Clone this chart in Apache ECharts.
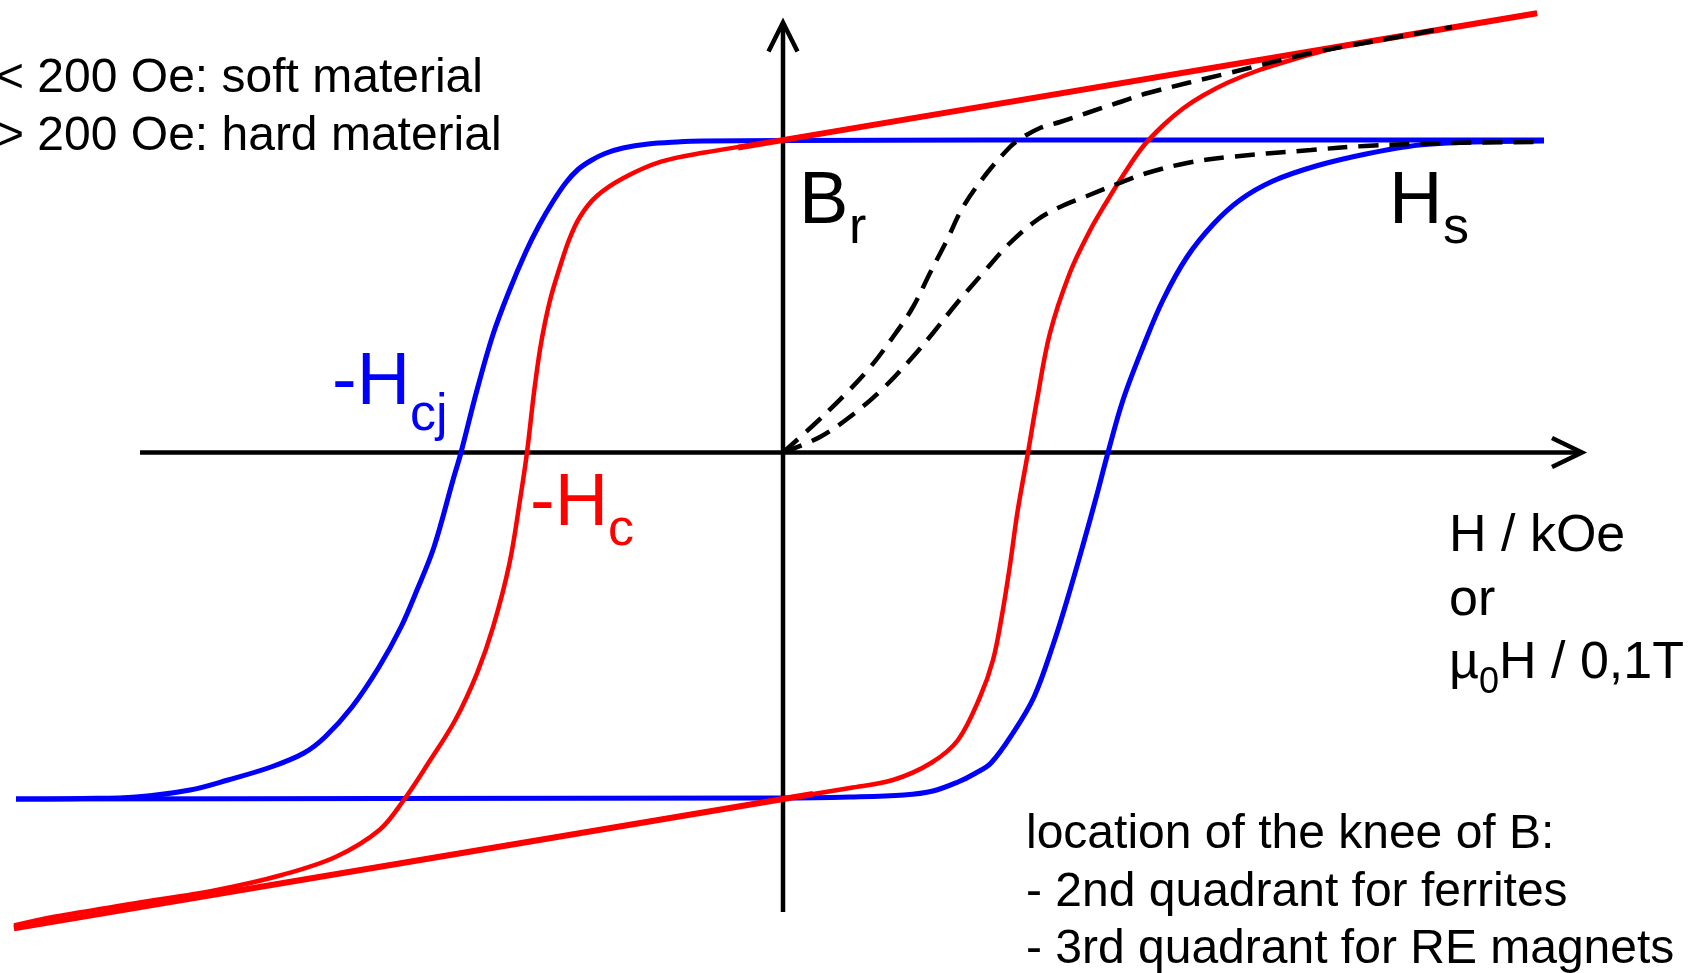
<!DOCTYPE html>
<html>
<head>
<meta charset="utf-8">
<script src="https://cdn.jsdelivr.net/npm/echarts@6/dist/echarts.min.js"></script>
<style>
  html, body { margin: 0; padding: 0; background: #ffffff; }
  #chart { width: 1700px; height: 973px; }
</style>
</head>
<body>
<div id="chart"></div>
<script>
// Schematic hysteresis loops: field H on x, induction / polarisation on y (drawing units).

// Coordinate axes and their open arrow heads
const hAxisLine = [[-6.43, 0], [7.99, 0]];
const hAxisHead = [[7.69, 0.145], [7.99, 0], [7.69, -0.145]];
const bAxisLine = [[0, -4.595], [0, 4.30]];
const bAxisHead = [[-0.145, 4.01], [0, 4.30], [0.145, 4.01]];

// Polarisation loop J(H), blue: descending and ascending branches
const jDown = [
  [7.61, 3.125], [5.0, 3.125], [2.0, 3.125], [0, 3.12], [-0.8, 3.115], [-1.06, 3.105],
  [-1.35, 3.085], [-1.60, 3.045], [-1.78, 2.99], [-1.92, 2.92], [-2.05, 2.83], [-2.17, 2.70],
  [-2.30, 2.51], [-2.44, 2.27], [-2.57, 2.01], [-2.74, 1.61], [-2.90, 1.18], [-3.06, 0.625],
  [-3.22, 0], [-3.30, -0.275], [-3.49, -0.945], [-3.66, -1.375], [-3.82, -1.745], [-4.04, -2.145],
  [-4.31, -2.545], [-4.58, -2.845], [-4.79, -3.005], [-5.12, -3.145], [-5.55, -3.275],
  [-5.93, -3.375], [-6.47, -3.445], [-7.0, -3.46], [-7.67, -3.465]
];
const jUp = [
  [-7.67, -3.465], [-4.0, -3.46], [0, -3.455], [0.67, -3.445], [1.21, -3.425], [1.50, -3.385],
  [1.75, -3.295], [1.92, -3.21], [2.08, -3.105], [2.30, -2.805], [2.51, -2.445], [2.70, -1.925],
  [2.85, -1.445], [3.00, -0.925], [3.13, -0.455], [3.25, 0], [3.40, 0.525], [3.60, 1.055],
  [3.80, 1.525], [4.04, 1.955], [4.30, 2.28], [4.57, 2.525], [4.90, 2.715], [5.33, 2.865],
  [5.83, 2.985], [6.36, 3.075], [6.90, 3.105], [7.61, 3.115]
];

// Induction loop B(H), red: descending and ascending branches
const bDown = [
  [7.54, 4.392], [0, 3.125], [-0.784, 3.0], [-1.22, 2.908], [-1.60, 2.742], [-1.87, 2.558],
  [-2.03, 2.358], [-2.14, 2.125], [-2.25, 1.795], [-2.32, 1.56], [-2.38, 1.30], [-2.43, 1.03],
  [-2.49, 0.60], [-2.56, 0], [-2.63, -0.475], [-2.735, -1.108], [-2.898, -1.742], [-3.06, -2.208],
  [-3.277, -2.675], [-3.548, -3.108], [-3.792, -3.475], [-4.036, -3.775], [-4.47, -4.042],
  [-5.012, -4.225], [-5.662, -4.375], [-6.475, -4.508], [-7.288, -4.642], [-7.69, -4.73]
];
const bUp = [
  [-7.69, -4.757], [0, -3.465], [0.67, -3.355], [1.10, -3.275], [1.48, -3.105], [1.75, -2.875],
  [1.97, -2.445], [2.10, -2.075], [2.19, -1.625], [2.27, -1.125], [2.34, -0.625], [2.40, -0.275],
  [2.45, 0], [2.54, 0.525], [2.67, 1.195], [2.87, 1.80], [3.07, 2.22], [3.22, 2.48],
  [3.40, 2.77], [3.60, 3.06], [3.80, 3.27], [4.00, 3.44], [4.20, 3.57], [4.45, 3.70],
  [4.75, 3.82], [5.10, 3.93], [5.50, 4.04], [6.09, 4.15], [7.54, 4.392]
];

// Saturation slope of B (straight parts of the red loop)
const bSatUpper = [[-0.45, 3.049], [7.54, 4.392]];
const bSatLower = [[-7.69, -4.757], [0.30, -3.415]];

// Initial magnetisation curves from the demagnetised state
const virginB = [
  [0, 0], [0.30, 0.27], [0.60, 0.56], [0.87, 0.85], [1.10, 1.155], [1.30, 1.455],
  [1.47, 1.795], [1.64, 2.125], [1.80, 2.455], [2.04, 2.795], [2.27, 3.055], [2.37, 3.135],
  [2.57, 3.245], [2.77, 3.305], [3.04, 3.395], [3.34, 3.495], [3.65, 3.595], [4.46, 3.795],
  [5.28, 3.995], [6.09, 4.145], [6.69, 4.255]
];
const virginJ = [
  [0, 0], [0.37, 0.155], [0.70, 0.38], [1.00, 0.64], [1.27, 0.925], [1.50, 1.195],
  [1.74, 1.495], [2.00, 1.795], [2.27, 2.095], [2.54, 2.325], [2.77, 2.455], [3.04, 2.565],
  [3.34, 2.685], [3.64, 2.795], [4.04, 2.895], [4.46, 2.955], [5.28, 3.025], [5.82, 3.065],
  [6.63, 3.095], [7.55, 3.105]
];

const BLUE = '#0000ff';
const RED = '#ff0000';
const BLACK = '#000000';
const FONT = '"Liberation Sans", Arial, Helvetica, sans-serif';

function lineSeries(data, color, width, extra) {
  return Object.assign({
    type: 'line',
    data: data,
    showSymbol: false,
    symbol: 'none',
    clip: false,
    silent: true,
    smooth: false,
    lineStyle: { color: color, width: width, cap: 'butt', join: 'miter' }
  }, extra || {});
}

// Text placed by left edge and baseline
function label(text, x, baseline, size, color) {
  return {
    type: 'text',
    x: x,
    y: baseline - 0.31 * size,
    silent: true,
    style: {
      text: text,
      fontFamily: FONT,
      fontSize: size,
      fill: color || BLACK,
      align: 'left',
      verticalAlign: 'middle'
    }
  };
}

const dashed = { color: BLACK, width: 4.5, type: [20, 11] };

const chart = echarts.init(document.getElementById('chart'), null, { renderer: 'canvas' });

chart.setOption({
  animation: false,
  backgroundColor: '#ffffff',
  grid: { left: 0, right: 0, top: 0, bottom: 0, containLabel: false, outerBoundsMode: 'none' },
  xAxis: { type: 'value', min: -7.83, max: 9.17, show: false },
  yAxis: { type: 'value', min: -5.205, max: 4.525, show: false },
  series: [
    lineSeries(hAxisLine, BLACK, 4.5),
    lineSeries(hAxisHead, BLACK, 4.5),
    lineSeries(bAxisLine, BLACK, 4.5),
    lineSeries(bAxisHead, BLACK, 4.5),
    lineSeries(jDown, BLUE, 5, { smooth: 0.35 }),
    lineSeries(jUp, BLUE, 5, { smooth: 0.35 }),
    lineSeries(bSatUpper, RED, 6),
    lineSeries(bSatLower, RED, 6),
    lineSeries(bDown, RED, 4.5, { smooth: 0.35 }),
    lineSeries(bUp, RED, 4.5, { smooth: 0.35 }),
    lineSeries(virginB, BLACK, 4.5, { smooth: 0.35, lineStyle: dashed }),
    lineSeries(virginJ, BLACK, 4.5, { smooth: 0.35, lineStyle: dashed })
  ],
  graphic: [
    label('< 200 Oe: soft material', -4, 94, 48),
    label('> 200 Oe: hard material', -4, 152, 48),

    label('B', 799, 226, 74),
    label('r', 849, 245, 52),

    label('H', 1389, 226, 74),
    label('s', 1443, 245, 52),

    label('-H', 332, 407, 74, BLUE),
    label('cj', 410, 432, 52, BLUE),

    label('-H', 530, 528, 74, RED),
    label('c', 608, 547, 52, RED),

    label('H / kOe', 1449, 553, 52),
    label('or', 1449, 617, 52),
    label('\u00b5', 1449, 680, 52),
    label('0', 1479, 694, 36),
    label('H / 0,1T', 1499, 680, 52),

    label('location of the knee of B:', 1026, 850, 48),
    label('- 2nd quadrant for ferrites', 1026, 908, 48),
    label('- 3rd quadrant for RE magnets', 1026, 965, 48)
  ]
});
</script>
</body>
</html>
